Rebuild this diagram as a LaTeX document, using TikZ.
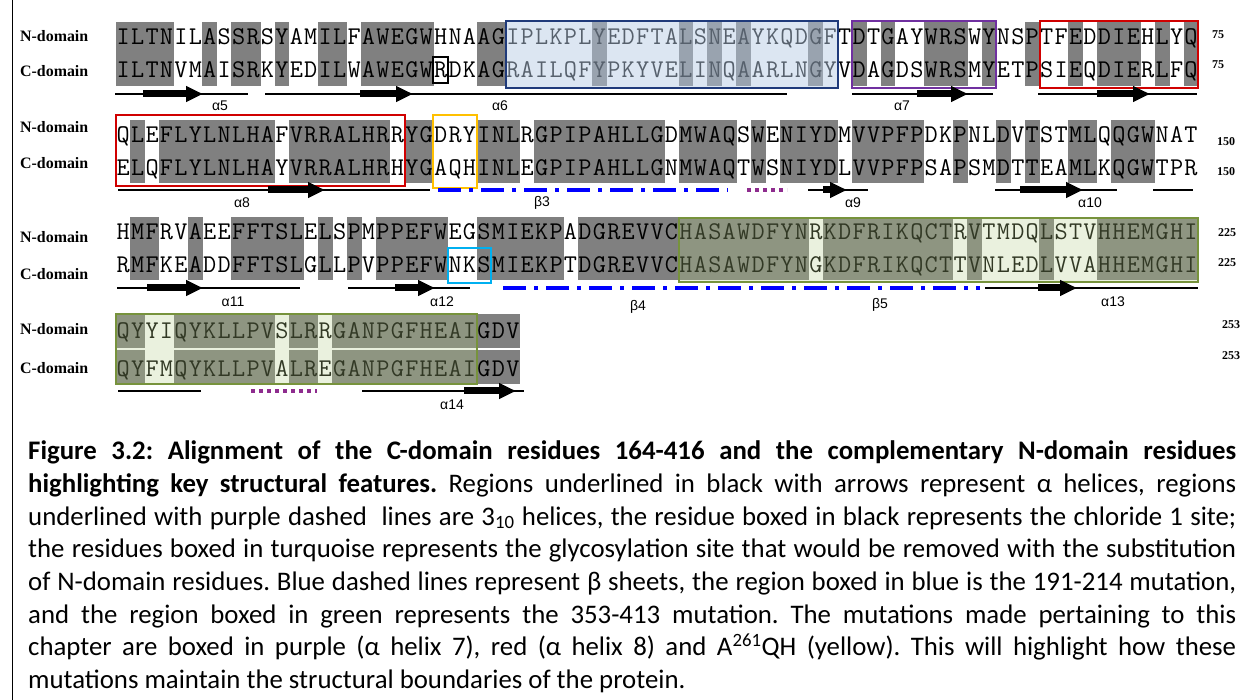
\documentclass[tikz,border=0pt]{standalone}
\usepackage{fontspec}
\usetikzlibrary{arrows.meta}
\frenchspacing
\newfontfamily\domfont{Liberation Serif}
\newfontfamily\capfont{Carlito}
\newfontfamily\ssfont{Liberation Sans}
\definecolor{idgray}{HTML}{808080}
\definecolor{boxblue}{HTML}{1F3A7A}
\definecolor{fillblue}{RGB}{182,203,228}
\definecolor{boxgreen}{HTML}{77933C}
\definecolor{fillgreen}{RGB}{181,206,135}
\definecolor{boxpurple}{HTML}{7030A0}
\definecolor{boxred}{HTML}{D00000}
\definecolor{boxyellow}{HTML}{FFC000}
\definecolor{boxturq}{HTML}{00B0F0}
\definecolor{dotpurple}{HTML}{8E2C8E}
\definecolor{sheetblue}{HTML}{0000FF}
\tikzset{
  domlabel/.style={anchor=west, inner sep=0pt, font=\domfont\bfseries\fontsize{15.9}{16}\selectfont},
  residue/.style={anchor=base, inner sep=0pt, font=\ttfamily\fontsize{25.5}{26}\selectfont},
  resnum/.style={anchor=west, inner sep=0pt, font=\domfont\bfseries\fontsize{12}{12}\selectfont},
  sslabel/.style={inner sep=0pt, font=\ssfont\fontsize{14}{14}\selectfont},
  capline/.style={anchor=base west, inner sep=0pt, font=\capfont\fontsize{26.8}{32.6}\selectfont},
  track/.style={line width=2.6pt},
  helix/.style={line width=7pt, -{Triangle[length=17pt,width=15pt]}},
  sheet/.style={sheetblue, line width=3.5pt, dash pattern=on 23pt off 8pt on 4pt off 8pt},
  turn/.style={dotpurple, line width=4.5pt, dash pattern=on 4pt off 4pt},
  regionbox/.style={line width=2pt},
}
% one residue per column
\newcount\rescol
\newcommand\seqrow[3]{\global\rescol=0\relax\def\seqy{#2}\def\seqtag{#1}\seqstep#3\relax}
\def\seqstep#1{\ifx\relax#1\else\global\advance\rescol by 1\relax
  \node[residue] (\seqtag\the\rescol) at ({cx(\the\rescol)+7.215},\seqy) {#1};%
  \expandafter\seqstep\fi}

\begin{document}
\begin{tikzpicture}[x=1pt,y=-1pt,
    declare function={cx(\i)=116+(\i-1)*14.43;}]
    \useasboundingbox (0,0) rectangle (1248,700);
    \draw[line width=1.8pt] (12.5,0) -- (12.5,700);

    % identical columns
    \foreach \c in {1,2,3,4,7,9,10,12,15,16,18,19,20,21,22,26,27,34,40,42,44,49,52,54,57,58,59,61,64,67,69,70,71,73,75}
        \fill[idgray] ({cx(\c)-0.2},22) rectangle ({cx(\c+1)+0.2},86);
    \foreach \c in {2,4,5,6,7,8,9,10,11,13,14,15,16,17,18,19,21,22,26,27,28,30,31,32,33,34,35,36,37,38,40,41,42,43,45,47,48,49,50,52,53,54,55,56,59,62,64,67,68,70,71,72}
        \fill[idgray] ({cx(\c)-0.2},120) rectangle ({cx(\c+1)+0.2},183);
    \foreach \c in {2,3,6,9,10,11,12,13,15,17,19,20,21,22,23,26,27,28,29,30,31,33,34,35,36,37,38,39,40,41,42,43,44,45,46,47,48,50,51,52,53,54,55,56,57,58,60,65,69,70,71,72,73,74,75}
        \fill[idgray] ({cx(\c)-0.2},217) rectangle ({cx(\c+1)+0.2},280);
    \foreach \c in {1,2,5,6,7,8,9,10,11,13,14,16,17,18,19,20,21,22,23,24,25,26,27,28} {
        \fill[idgray] ({cx(\c)-0.2},314) rectangle ({cx(\c+1)+0.2},348);
        \fill[idgray] ({cx(\c)-0.2},350) rectangle ({cx(\c+1)+0.2},384);
    }

    % labels
    \node[domlabel] (dn1) at (20,36) {N-domain};
    \node[domlabel] (dc1) at (20,71) {C-domain};
    \node[domlabel] (dn2) at (20,127) {N-domain};
    \node[domlabel] (dc2) at (20,163) {C-domain};
    \node[domlabel] (dn3) at (20,237) {N-domain};
    \node[domlabel] (dc3) at (20,274) {C-domain};
    \node[domlabel] (dn4) at (20,329) {N-domain};
    \node[domlabel] (dc4) at (20,368) {C-domain};

    % sequences
    \seqrow{na}{45}{ILTNILASSRSYAMILFAWEGWHNAAGIPLKPLYEDFTALSNEAYKQDGFTDTGAYWRSWYNSPTFEDDIEHLYQ}
    \seqrow{ca}{78}{ILTNVMAISRKYEDILWAWEGWRDKAGRAILQFYPKYVELINQAARLNGYVDAGDSWRSMYETPSIEQDIERLFQ}
    \seqrow{nb}{143}{QLEFLYLNLHAFVRRALHRRYGDRYINLRGPIPAHLLGDMWAQSWENIYDMVVPFPDKPNLDVTSTMLQQGWNAT}
    \seqrow{cb}{176}{ELQFLYLNLHAYVRRALHRHYGAQHINLEGPIPAHLLGNMWAQTWSNIYDLVVPFPSAPSMDTTEAMLKQGWTPR}
    \seqrow{nc}{240}{HMFRVAEEFFTSLELSPMPPEFWEGSMIEKPADGREVVCHASAWDFYNRKDFRIKQCTRVTMDQLSTVHHEMGHI}
    \seqrow{cc}{273}{RMFKEADDFFTSLGLLPVPPEFWNKSMIEKPTDGREVVCHASAWDFYNGKDFRIKQCTTVNLEDLVVAHHEMGHI}
    \seqrow{nd}{339}{QYYIQYKLLPVSLRRGANPGFHEAIGDV}
    \seqrow{cd}{377}{QYFMQYKLLPVALREGANPGFHEAIGDV}

    % residue numbers
    \node[resnum] (num1n) at (1212,35) {75};
    \node[resnum] (num1c) at (1212,65) {75};
    \node[resnum] (num2n) at (1217,142) {150};
    \node[resnum] (num2c) at (1217,172) {150};
    \node[resnum] (num3n) at (1218,233) {225};
    \node[resnum] (num3c) at (1218,263) {225};
    \node[resnum] (num4n) at (1222,325) {253};
    \node[resnum] (num4c) at (1222,356) {253};

    % mutation boxes
    \draw[boxblue, regionbox, fill=fillblue, fill opacity=0.48] ({cx(28)},21) rectangle ({cx(51)},88);
    \draw[boxgreen, regionbox, fill=fillgreen, fill opacity=0.28] ({cx(40)},218) rectangle ({cx(76)},282);
    \draw[boxgreen, regionbox, fill=fillgreen, fill opacity=0.28] ({cx(1)},314) rectangle ({cx(26)},384);
    \draw[boxpurple, regionbox] ({cx(52)},21) rectangle ({cx(62)},88);
    \draw[boxred, regionbox] ({cx(65)},21) rectangle ({cx(76)},88);
    \draw[regionbox] ({cx(23)},57) rectangle ({cx(24)},83);
    \draw[boxred, regionbox] ({cx(1)},115) rectangle ({cx(21)},186);
    \draw[boxyellow, regionbox] ({cx(23)},115) rectangle ({cx(26)},188);
    \draw[boxturq, regionbox] ({cx(24)},248) rectangle ({cx(27)},283);

    % secondary structure, block 1
    \draw[track] (115,94) -- (248,94);
    \draw[helix] (143,94) -- (203,94);
    \draw[track] (265,94) -- (787,94);
    \draw[helix] (360,94) -- (413,94);
    \draw[track] (852,94) -- (993,94);
    \draw[helix] (917,94) -- (968,94);
    \draw[track] (1038,94) -- (1197,94);
    \draw[helix] (1097,94) -- (1150,94);
    \node[sslabel] (a5) at (220,106) {α5};
    \node[sslabel] (a6) at (500,106) {α6};
    \node[sslabel] (a7) at (902,106) {α7};

    % block 2
    \draw[track] (118,190) -- (430,190);
    \draw[helix] (268,190) -- (325,190);
    \draw[sheet] (438,190) -- (728,190);
    \draw[turn] (747,190) -- (787,190);
    \draw[track] (808,190) -- (868,190);
    \draw[helix] (823,190) -- (847,190);
    \draw[track] (995,190) -- (1117,190);
    \draw[helix] (1020,190) -- (1083,190);
    \draw[track] (1153,190) -- (1193,190);
    \node[sslabel] (a8) at (242,203) {α8};
    \node[sslabel] (b3) at (542,203) {β3};
    \node[sslabel] (a9) at (853,203) {α9};
    \node[sslabel] (a10) at (1090,203) {α10};

    % block 3
    \draw[track] (117,288) -- (300,288);
    \draw[helix] (147,288) -- (203,288);
    \draw[track] (348,288) -- (470,288);
    \draw[helix] (395,288) -- (435,288);
    \draw[sheet] (503,288) -- (980,288);
    \draw[track] (985,288) -- (1198,288);
    \draw[helix] (1038,288) -- (1077,288);
    \node[sslabel] (a11) at (233,302) {α11};
    \node[sslabel] (a12) at (442,302) {α12};
    \node[sslabel] (b4) at (638,307) {β4};
    \node[sslabel] (b5) at (880,305) {β5};
    \node[sslabel] (a13) at (1113,302) {α13};

    % block 4
    \draw[track] (118,391) -- (201,391);
    \draw[turn] (251,391) -- (317,391);
    \draw[track] (362,391) -- (524,391);
    \draw[helix] (464,391) -- (516,391);
    \node[sslabel] (a14) at (452,405) {α14};

    % caption
    \node[capline] (cap1) at (28,460) {\makebox[1208pt][s]{\bfseries Figure 3.2: Alignment of the C-domain residues 164-416 and the complementary N-domain residues}};
    \node[capline] (cap2) at (28,492.6) {\makebox[1208pt][s]{\bfseries highlighting key structural features.\mdseries{} Regions underlined in black with arrows represent α helices, regions}};
    \node[capline] (cap3) at (28,525.2) {\makebox[1208pt][s]{underlined with purple dashed\ \ lines are 3\textsubscript{10} helices, the residue boxed in black represents the chloride 1 site;}};
    \node[capline] (cap4) at (28,557.8) {\makebox[1208pt][s]{the residues boxed in turquoise represents the glycosylation site that would be removed with the substitution}};
    \node[capline] (cap5) at (28,590.4) {\makebox[1208pt][s]{of N-domain residues. Blue dashed lines represent β sheets, the region boxed in blue is the 191-214 mutation,}};
    \node[capline] (cap6) at (28,623) {\makebox[1208pt][s]{and the region boxed in green represents the 353-413 mutation. The mutations made pertaining to this}};
    \node[capline] (cap7) at (28,655.6) {\makebox[1208pt][s]{chapter are boxed in purple (α helix 7), red (α helix 8) and A\textsuperscript{261}QH (yellow). This will highlight how these}};
    \node[capline] (cap8) at (28,688.2) {mutations maintain the structural boundaries of the protein.};
\end{tikzpicture}
\end{document}
